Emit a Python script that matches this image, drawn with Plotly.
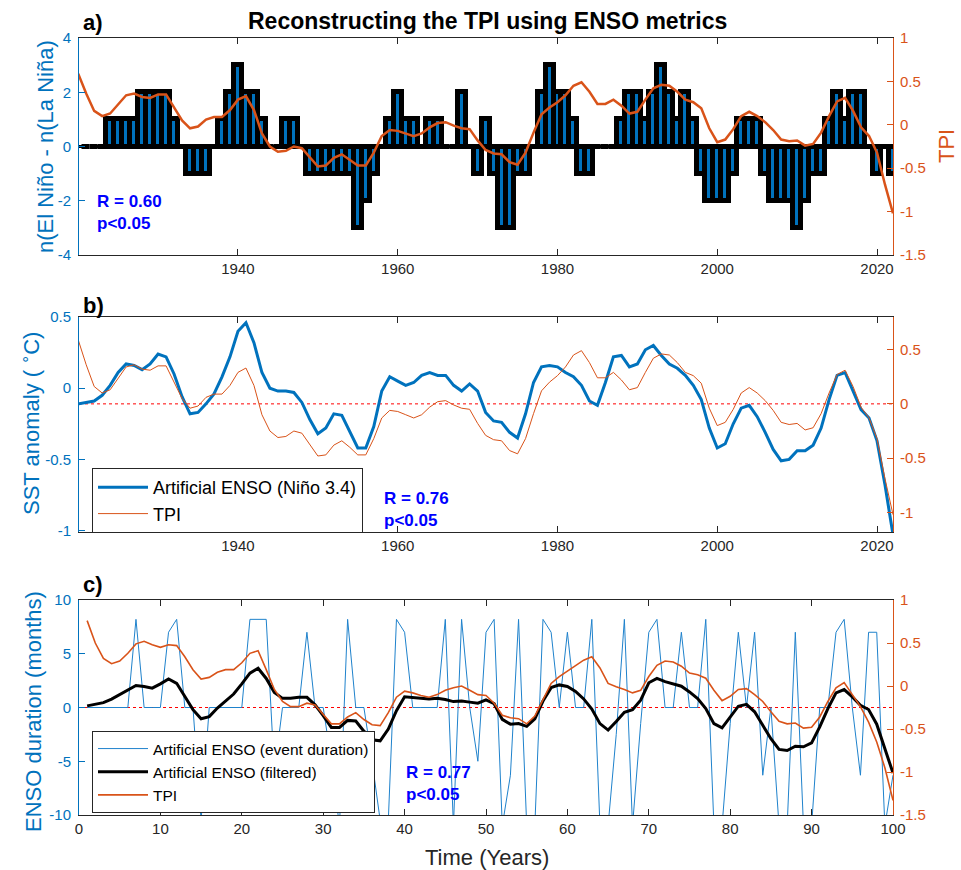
import plotly.graph_objects as go

# ---------------- DATA ----------------
# Panel a: ENSO event count difference (bars) and TPI
bar_years = list(range(1921, 2023))
enso_count = [0, 0, 0, 1, 1, 1, 1, 2, 2, 2,        # 1921-1930
              2, 1, 0, -1, -1, -1, 0, 1, 2, 3,       # 1931-1940
              2, 2, 1, 0, 0, 1, 1, 0, -1, -1,        # 1941-1950
              -1, -1, -1, -1, -3, -2, -1, 0, 1, 2,   # 1951-1960
              1, 1, 0, 1, 1, 0, 0, 2, 0, -1,         # 1961-1970
              1, -1, -3, -3, -1, -1, 0, 2, 3, 2,     # 1971-1980
              2, 1, -1, -1, 0, 0, 0, 1, 2, 2,        # 1981-1990
              1, 2, 3, 2, 1, 2, 1, -1, -2, -2,       # 1991-2000
              -2, -1, 1, 1, 1, -1, -2, -2, -2, -3,   # 2001-2010
              -2, -1, -1, 1, 2, 1, 2, 2, 0, -1,      # 2011-2020
              0, -1]                                 # 2021-2022

years = list(range(1920, 2023))
tpi = [0.59, 0.36, 0.16, 0.10, 0.13, 0.23, 0.34, 0.36, 0.32, 0.31,          # 1920-1929
       0.35, 0.35, 0.20, 0.05, -0.04, -0.02, 0.06, 0.09, 0.09, 0.17,        # 1930-1939
       0.29, 0.33, 0.17, -0.10, -0.25, -0.31, -0.30, -0.25, -0.27, -0.37,   # 1940-1949
       -0.48, -0.47, -0.38, -0.34, -0.40, -0.47, -0.47, -0.32, -0.13, -0.06,  # 1950-1959
       -0.07, -0.10, -0.13, -0.10, -0.03, 0.02, 0.03, -0.01, -0.04, -0.05,  # 1960-1969
       -0.18, -0.29, -0.33, -0.34, -0.43, -0.46, -0.32, -0.09, 0.12, 0.20,  # 1970-1979
       0.26, 0.34, 0.45, 0.49, 0.38, 0.24, 0.24, 0.29, 0.22, 0.13,          # 1980-1989
       0.15, 0.29, 0.42, 0.46, 0.45, 0.38, 0.29, 0.26, 0.19, -0.04,         # 1990-1999
       -0.20, -0.17, -0.05, 0.10, 0.15, 0.10, 0.03, -0.06, -0.17, -0.19,    # 2000-2009
       -0.18, -0.24, -0.22, -0.09, 0.10, 0.27, 0.31, 0.16, -0.03, -0.13,    # 2010-2019
       -0.32, -0.69, -1.02]                                                 # 2020-2022

# Panel b: artificial ENSO (Nino 3.4) SST anomaly
sst = [-0.11, -0.10, -0.09, -0.05, 0.02, 0.11, 0.17, 0.16, 0.13, 0.17,      # 1920-1929
       0.24, 0.22, 0.10, -0.06, -0.18, -0.17, -0.11, -0.04, 0.08, 0.22,     # 1930-1939
       0.40, 0.46, 0.32, 0.11, 0.00, -0.02, -0.02, -0.03, -0.10, -0.22,     # 1940-1949
       -0.32, -0.28, -0.18, -0.19, -0.31, -0.42, -0.42, -0.27, -0.02, 0.08,  # 1950-1959
       0.05, 0.02, 0.04, 0.09, 0.11, 0.09, 0.09, 0.02, -0.02, 0.03,         # 1960-1969
       -0.02, -0.17, -0.23, -0.24, -0.31, -0.35, -0.18, 0.04, 0.15, 0.16,   # 1970-1979
       0.15, 0.11, 0.08, 0.02, -0.09, -0.12, 0.04, 0.22, 0.23, 0.15,        # 1980-1989
       0.17, 0.27, 0.30, 0.23, 0.17, 0.14, 0.09, 0.02, -0.08, -0.28,        # 1990-1999
       -0.42, -0.39, -0.25, -0.14, -0.12, -0.20, -0.31, -0.43, -0.51, -0.50,  # 2000-2009
       -0.44, -0.44, -0.40, -0.28, -0.08, 0.09, 0.11, -0.02, -0.15, -0.21,  # 2010-2019
       -0.37, -0.68, -1.03]                                                 # 2020-2022

# Panel c: synthetic 100-year series
t_years = list(range(1, 101))
event_duration = [0, 0, 0, 0, 0, 0, 8.2, 0, 0, 0,
                  7, 8.2, 0, 0, -10.5, 0, 0, 0, 0, 0,
                  8.2, 8.2, 8.2, -6, 0, 0, 0, 7, 0, 0,
                  -5, -11, 8.2, 0, 0, -5, -10.5, -10.5, 8.2, 7,
                  0, 0, 0, 0, 8.2, -11, 8.2, 0, -5, 7,
                  8.2, -11, -6.3, 8.2, -11, -11, 8.2, 7, 0, 7,
                  0, 0, 8.2, -11, -11, -2.5, 8.2, -11, -1.5, 7,
                  8.2, 0, 0, 7, 0, 0, 8.2, -11, -11, -1.5,
                  7, 0, 7, -6.3, 0, -11, -11, 7, -11, -11,
                  0, 0, 7, 8.2, 0, -6.3, 7, 7, -11, -6.3]
filtered = [0.15, 0.3, 0.45, 0.78, 1.2, 1.65, 2.05, 1.95, 1.8, 2.2,
            2.65, 2.25, 1.0, -0.2, -1.05, -0.85, -0.05, 0.6, 1.25, 2.2,
            3.2, 3.65, 2.7, 1.4, 0.85, 0.85, 0.95, 0.95, 0.25, -0.75,
            -1.85, -1.85, -1.2, -1.25, -2.2, -3.0, -3.1, -2.0, -0.3, 1.0,
            0.95, 0.85, 0.8, 0.85, 0.75, 0.55, 0.6, 0.5, 0.4, 0.7,
            0.35, -1.1, -1.55, -1.5, -1.75, -1.05, 0.6, 1.85, 2.1, 1.95,
            1.5, 0.8, -0.15, -1.5, -2.1, -1.3, -0.45, -0.2, 0.68, 2.3,
            2.7, 2.4, 2.17, 1.98, 1.45, 0.83, -0.1, -1.5, -1.9, -0.87,
            0.12, 0.3, -0.4, -1.65, -2.9, -3.9, -4.0, -3.6, -3.65, -3.3,
            -1.8, -0.1, 1.36, 1.67, 0.99, 0.21, -0.19, -1.55, -3.8, -6.1]
tpi_c = [0.76, 0.50, 0.32, 0.26, 0.29, 0.38, 0.49, 0.52, 0.48, 0.45,
         0.48, 0.47, 0.34, 0.19, 0.08, 0.10, 0.16, 0.19, 0.19, 0.27,
         0.38, 0.41, 0.19, -0.04, -0.18, -0.24, -0.24, -0.20, -0.22, -0.33,
         -0.44, -0.44, -0.36, -0.31, -0.39, -0.45, -0.46, -0.31, -0.13, -0.06,
         -0.08, -0.11, -0.13, -0.10, -0.05, -0.02, 0.00, -0.05, -0.10, -0.11,
         -0.20, -0.34, -0.37, -0.38, -0.44, -0.35, -0.16, 0.03, 0.11, 0.17,
         0.23, 0.30, 0.34, 0.21, 0.03, -0.01, -0.04, -0.08, -0.05, 0.11,
         0.24, 0.29, 0.28, 0.23, 0.15, 0.13, 0.09, -0.05, -0.17, -0.12,
         -0.04, -0.03, -0.10, -0.18, -0.30, -0.41, -0.44, -0.43, -0.49, -0.48,
         -0.36, -0.18, -0.02, 0.04, -0.10, -0.24, -0.42, -0.65, -0.95, -1.33]

# Tick values / labels
year_ticks = [1940, 1960, 1980, 2000, 2020]
a_left_ticks = [-4, -2, 0, 2, 4]
a_left_text = ["-4", "-2", "0", "2", "4"]
tpi_ticks = [-1.5, -1, -0.5, 0, 0.5, 1]
tpi_text = ["-1.5", "-1", "-0.5", "0", "0.5", "1"]
b_ticks = [-1, -0.5, 0, 0.5]
b_text = ["-1", "-0.5", "0", "0.5"]
c_x_ticks = list(range(0, 101, 10))
c_left_ticks = [-10, -5, 0, 5, 10]
c_left_text = ["-10", "-5", "0", "5", "10"]

# ---------------- STYLE ----------------
FONT = "Liberation Sans, Arial, Helvetica, sans-serif"
BLUE = "#0072BD"
ORANGE = "#D95319"
DARK = "#262626"
RTEXT = "#0000FF"
W, H = 961, 870
PX0, PX1 = 79, 893


def ydom(top, bottom):
    return [1 - bottom / H, 1 - top / H]


def px(x):
    return x / W


def py(y):
    return 1 - y / H


fig = go.Figure()

# ---- panel a ----
fig.add_trace(go.Bar(x=bar_years, y=enso_count, width=1, xaxis="x", yaxis="y",
                     marker=dict(color=BLUE, line=dict(color="black", width=5)),
                     showlegend=False))
fig.add_trace(go.Scatter(x=years, y=tpi, mode="lines", xaxis="x", yaxis="y2",
                         line=dict(color=ORANGE, width=2.5), showlegend=False))

# ---- panel b ----
fig.add_trace(go.Scatter(x=years, y=sst, mode="lines", xaxis="x2", yaxis="y3",
                         name="Artificial ENSO (Niño 3.4)", legend="legend",
                         line=dict(color=BLUE, width=3)))
fig.add_trace(go.Scatter(x=years, y=tpi, mode="lines", xaxis="x2", yaxis="y4",
                         name="TPI", legend="legend",
                         line=dict(color=ORANGE, width=1)))

# ---- panel c ----
fig.add_trace(go.Scatter(x=t_years, y=event_duration, mode="lines", xaxis="x3", yaxis="y5",
                         name="Artificial ENSO (event duration)", legend="legend2",
                         line=dict(color="#1f82cc", width=1)))
fig.add_trace(go.Scatter(x=t_years, y=filtered, mode="lines", xaxis="x3", yaxis="y5",
                         name="Artificial ENSO (filtered)", legend="legend2",
                         line=dict(color="black", width=3)))
fig.add_trace(go.Scatter(x=t_years, y=tpi_c, mode="lines", xaxis="x3", yaxis="y6",
                         name="TPI", legend="legend2",
                         line=dict(color=ORANGE, width=1.6)))

tickfont_x = dict(family=FONT, size=15, color=DARK)


def xax(anchor, rng, tickvals):
    return dict(domain=[px(PX0), px(PX1)], anchor=anchor, range=rng,
                tickvals=tickvals, ticks="inside", ticklen=6, tickwidth=1, tickcolor=DARK,
                showline=True, linecolor=DARK, linewidth=1, mirror="ticks",
                showgrid=False, zeroline=False, tickfont=tickfont_x)


def yleft(anchor, dom, rng, tickvals, ticktext):
    return dict(domain=dom, anchor=anchor, range=rng, tickvals=tickvals, ticktext=ticktext,
                ticks="inside", ticklen=6, tickwidth=1, tickcolor=BLUE,
                showline=True, linecolor=BLUE, linewidth=1, showgrid=False, zeroline=False,
                tickfont=dict(family=FONT, size=15, color=BLUE), ticklabelstandoff=4)


def yright(anchor, over, rng, tickvals, ticktext):
    return dict(overlaying=over, side="right", anchor=anchor, range=rng,
                tickvals=tickvals, ticktext=ticktext,
                ticks="inside", ticklen=6, tickwidth=1, tickcolor=ORANGE,
                showline=True, linecolor=ORANGE, linewidth=1, showgrid=False, zeroline=False,
                tickfont=dict(family=FONT, size=15, color=ORANGE), ticklabelstandoff=3)


dom_a = ydom(38, 255)
dom_b = ydom(317, 532)
dom_c = ydom(600, 815)

shapes = [
    # zero baseline of the bar chart
    dict(type="line", xref="x", yref="y", x0=1923.5, x1=2022, y0=0, y1=0,
         line=dict(color="black", width=3), layer="below"),
    dict(type="line", xref="x", yref="y", x0=1920.1, x1=1923.5, y0=0, y1=0,
         line=dict(color="black", width=3, dash="dash"), layer="below"),
    # red dotted zero lines
    dict(type="line", xref="x2 domain", yref="y4", x0=0, x1=1, y0=0, y1=0,
         line=dict(color="#FF0000", width=1, dash="dot"), layer="below"),
    dict(type="line", xref="x3 domain", yref="y5", x0=0, x1=1, y0=0, y1=0,
         line=dict(color="#FF0000", width=1, dash="dot"), layer="below"),
]


def ann(text, x, y, size, color="black", bold=False, angle=0, xanchor="center",
        yanchor="middle", align="center"):
    if bold:
        text = "<b>" + text + "</b>"
    return dict(text=text, x=px(x), y=py(y), xref="paper", yref="paper",
                showarrow=False, textangle=angle, xanchor=xanchor, yanchor=yanchor,
                align=align, font=dict(family=FONT, size=size, color=color))


annotations = [
    ann("Reconstructing the TPI using ENSO metrics", 487, 21, 23, bold=True),
    ann("a)", 81, 22, 22, bold=True, xanchor="left"),
    ann("b)", 81, 305, 22, bold=True, xanchor="left"),
    ann("c)", 81, 584, 22, bold=True, xanchor="left"),
    ann("n(El Niño - n(La Niña)", 45, 147, 22, color=BLUE, angle=-90),
    ann("TPI", 946, 146, 22, color=ORANGE, angle=-90),
    ann("SST anomaly ( <sup>∘</sup>C)", 30, 424, 22, color=BLUE, angle=-90),
    ann("ENSO duration (months)", 33, 712, 22, color=BLUE, angle=-90),
    ann("Time (Years)", 487, 857, 22, color=DARK),
    ann("R = 0.60<br>p&lt;0.05", 95, 213, 17, color=RTEXT, bold=True, xanchor="left", align="left"),
    ann("R = 0.76<br>p&lt;0.05", 382, 510, 17, color=RTEXT, bold=True, xanchor="left", align="left"),
    ann("R = 0.77<br>p&lt;0.05", 404, 783, 17, color=RTEXT, bold=True, xanchor="left", align="left"),
]

fig.update_layout(
    width=W, height=H,
    margin=dict(l=0, r=0, t=0, b=0, autoexpand=False),
    paper_bgcolor="white", plot_bgcolor="white",
    font=dict(family=FONT, color=DARK),
    bargap=0, barmode="overlay",
    hovermode=False,
    xaxis=xax("y", [1920.1, 2022], year_ticks),
    yaxis=yleft("x", dom_a, [-4, 4], a_left_ticks, a_left_text),
    yaxis2=yright("x", "y", [-1.5, 1], tpi_ticks, tpi_text),
    xaxis2=xax("y3", [1920.1, 2022], year_ticks),
    yaxis3=yleft("x2", dom_b, [-1.01, 0.5], b_ticks, b_text),
    yaxis4=yright("x2", "y3", [-1.18, 0.80], b_ticks, b_text),
    xaxis3=xax("y5", [0, 100], c_x_ticks),
    yaxis5=yleft("x3", dom_c, [-10, 10], c_left_ticks, c_left_text),
    yaxis6=yright("x3", "y5", [-1.5, 1], tpi_ticks, tpi_text),
    legend=dict(x=px(92), y=py(468), xanchor="left", yanchor="top",
                bgcolor="white", bordercolor=DARK, borderwidth=1, itemwidth=50,
                font=dict(family=FONT, size=18, color="black"), tracegroupgap=0),
    legend2=dict(x=px(92), y=py(731), xanchor="left", yanchor="top",
                 bgcolor="white", bordercolor=DARK, borderwidth=1, itemwidth=50,
                 font=dict(family=FONT, size=15.5, color="black"), tracegroupgap=0),
    shapes=shapes,
    annotations=annotations,
)

fig.write_html("out.html")
